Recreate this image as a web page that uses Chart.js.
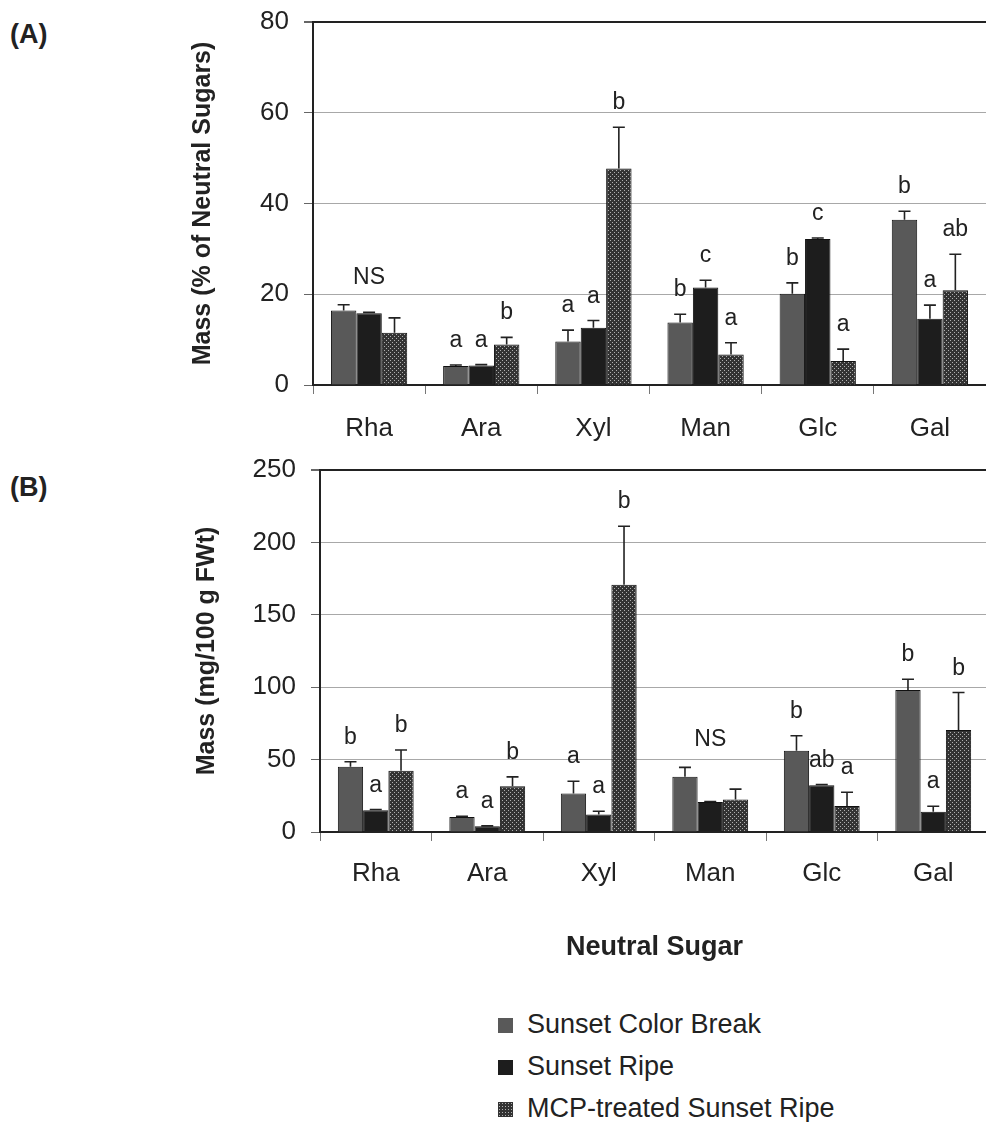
<!DOCTYPE html>
<html>
<head>
<meta charset="utf-8">
<script src="https://cdn.jsdelivr.net/npm/chart.js@4.4.0/dist/chart.umd.min.js"></script>
<style>
  html, body { margin: 0; padding: 0; background: #fff; overflow: hidden; width: 986px; height: 1122px; }
  body { position: relative; font-family: "Liberation Sans", Arial, sans-serif; color: #222; }
  canvas { position: absolute; left: 0; }
  .tag { position: absolute; font-weight: bold; font-size: 27px; line-height: 30px; }
  .leg { position: absolute; left: 498px; font-size: 27px; line-height: 30px; white-space: nowrap; }
  .leg i { position: absolute; left: 0; top: 9px; width: 15px; height: 15px; }
  .leg span { position: absolute; left: 29px; top: 0; }
</style>
</head>
<body>
<div class="tag" style="left:10px; top:19px;">(A)</div>
<div class="tag" style="left:10px; top:472px;">(B)</div>
<canvas id="chartA" width="986" height="455" style="top:-10px;"></canvas>
<canvas id="chartB" width="989" height="538" style="top:430px;"></canvas>
<div id="legend"></div>
<script>
const categories = ["Rha", "Ara", "Xyl", "Man", "Glc", "Gal"];
const seriesNames = ["Sunset Color Break", "Sunset Ripe", "MCP-treated Sunset Ripe"];

// (A) mass as % of neutral sugars
const colorBreakPct = [16.4, 4.2, 9.6, 13.8, 20.1, 36.4];
const colorBreakPctErr = [1.3, 0.2, 2.5, 1.8, 2.4, 1.9];
const ripePct = [15.8, 4.3, 12.6, 21.5, 32.2, 14.6];
const ripePctErr = [0.2, 0.2, 1.6, 1.6, 0.2, 3.0];
const mcpPct = [11.5, 8.9, 47.7, 6.7, 5.3, 20.9];
const mcpPctErr = [3.3, 1.6, 9.1, 2.6, 2.6, 7.9];
const yTicksA = [0, 20, 40, 60, 80];

// letters over bars, panel A
const colorBreakLettersA = ["", "a", "a", "b", "b", "b"];
const ripeLettersA = ["", "a", "a", "c", "c", "a"];
const mcpLettersA = ["", "b", "b", "a", "a", "ab"];
const groupLettersA = ["NS", "", "", "", "", ""];

// (B) mass in mg/100 g FWt
const colorBreakMg = [45.0, 10.4, 26.6, 38.1, 56.1, 98.1];
const colorBreakMgErr = [3.5, 0.4, 8.5, 6.5, 10.4, 7.4];
const ripeMg = [15.0, 3.9, 12.0, 20.8, 32.3, 13.9];
const ripeMgErr = [0.5, 0.3, 2.3, 0.3, 0.5, 3.9];
const mcpMg = [42.3, 31.6, 170.8, 22.4, 18.0, 70.4];
const mcpMgErr = [14.3, 6.5, 40.4, 7.2, 9.5, 25.9];
const yTicksB = [0, 50, 100, 150, 200, 250];

const colorBreakLettersB = ["b", "a", "a", "", "b", "b"];
const ripeLettersB = ["a", "a", "a", "", "ab", "a"];
const mcpLettersB = ["b", "b", "b", "", "a", "b"];
const groupLettersB = ["", "", "", "NS", "", ""];

const FONT = '"Liberation Sans", Arial, sans-serif';
const INK = '#222';

function dotPattern() {
    const c = document.createElement('canvas');
    c.width = 4; c.height = 4;
    const g = c.getContext('2d');
    g.fillStyle = '#333333';
    g.fillRect(0, 0, 4, 4);
    g.fillStyle = '#b0b0b0';
    g.fillRect(0, 0, 1, 1);
    g.fillRect(2, 2, 1, 1);
    return g.createPattern(c, 'repeat');
}
const mcpFill = dotPattern();
const barFills = ['#595959', '#1d1d1d', mcpFill];

// error bars (upper only) + significance letters
const marksPlugin = {
    id: 'marks',
    afterDatasetsDraw(chart, args, opts) {
        const ctx = chart.ctx;
        const y = chart.scales.y;
        const x = chart.scales.x;
        const groupTop = categories.map(() => Infinity);
        ctx.save();
        ctx.strokeStyle = INK;
        ctx.fillStyle = INK;
        ctx.lineWidth = 1.6;
        ctx.font = '23px ' + FONT;
        ctx.textAlign = 'center';
        ctx.textBaseline = 'alphabetic';
        chart.data.datasets.forEach((ds, di) => {
            chart.getDatasetMeta(di).data.forEach((bar, i) => {
                const hi = y.getPixelForValue(ds.data[i] + ds.errors[i]);
                groupTop[i] = Math.min(groupTop[i], hi);
                if (ds.errors[i] > 0) {
                    ctx.beginPath();
                    ctx.moveTo(bar.x, bar.y);
                    ctx.lineTo(bar.x, hi);
                    ctx.moveTo(bar.x - 6, hi);
                    ctx.lineTo(bar.x + 6, hi);
                    ctx.stroke();
                }
                if (ds.letters[i]) ctx.fillText(ds.letters[i], bar.x, hi - 18);
            });
        });
        (opts.groupLetters || []).forEach((txt, i) => {
            if (txt) ctx.fillText(txt, x.getPixelForValue(i), groupTop[i] - 21);
        });
        ctx.restore();
    }
};

function makeChart(el, cfg) {
    const yMax = cfg.ticks[cfg.ticks.length - 1];
    const datasets = cfg.series.map((vals, k) => ({
        label: seriesNames[k],
        data: vals,
        errors: cfg.errors[k],
        letters: cfg.letters[k],
        backgroundColor: barFills[k],
        borderColor: '#111',
        borderWidth: 1
    }));
    return new Chart(el, {
        type: 'bar',
        data: { labels: categories, datasets: datasets },
        options: {
            responsive: false,
            animation: false,
            categoryPercentage: 0.68,
            barPercentage: 1.0,
            layout: { padding: cfg.padding },
            plugins: {
                legend: { display: false },
                tooltip: { enabled: false },
                marks: { groupLetters: cfg.groupLetters }
            },
            scales: {
                x: {
                    grid: { offset: true, drawOnChartArea: false, tickLength: 9, color: '#777' },
                    border: { display: true, color: INK, width: 2 },
                    ticks: { font: { size: 26, family: FONT }, color: INK, padding: cfg.xPad },
                    title: cfg.xTitle ? {
                        display: true, text: cfg.xTitle, color: INK,
                        font: { size: 27, weight: 'bold', family: FONT },
                        padding: { top: 0, bottom: 4 }
                    } : { display: false },
                    afterFit(s) { s.height = cfg.xHeight; }
                },
                y: {
                    min: 0,
                    max: yMax,
                    afterBuildTicks(s) { s.ticks = cfg.ticks.map(v => ({ value: v })); },
                    ticks: { font: { size: 26, family: FONT }, color: INK, padding: 15 },
                    grid: {
                        color: c => (c.tick && c.tick.value === yMax) ? INK : '#a8a8a8',
                        lineWidth: c => (c.tick && c.tick.value === yMax) ? 2 : 1,
                        tickColor: '#666',
                        tickLength: 9
                    },
                    border: { display: true, color: INK, width: 2 },
                    title: {
                        display: true, text: cfg.yTitle, color: INK,
                        font: { size: 25, weight: 'bold', family: FONT },
                        padding: { top: 4, bottom: 0 }
                    },
                    afterFit(s) { s.width = cfg.yWidth; }
                }
            }
        },
        plugins: [marksPlugin]
    });
}

makeChart(document.getElementById('chartA'), {
    series: [colorBreakPct, ripePct, mcpPct],
    errors: [colorBreakPctErr, ripePctErr, mcpPctErr],
    letters: [colorBreakLettersA, ripeLettersA, mcpLettersA],
    groupLetters: groupLettersA,
    ticks: yTicksA,
    yTitle: 'Mass (% of Neutral Sugars)',
    padding: { left: 184, top: 32, right: 0, bottom: 0 },
    yWidth: 129,
    xHeight: 60,
    xPad: 19
});

makeChart(document.getElementById('chartB'), {
    series: [colorBreakMg, ripeMg, mcpMg],
    errors: [colorBreakMgErr, ripeMgErr, mcpMgErr],
    letters: [colorBreakLettersB, ripeLettersB, mcpLettersB],
    groupLetters: groupLettersB,
    ticks: yTicksB,
    yTitle: 'Mass (mg/100 g FWt)',
    xTitle: 'Neutral Sugar',
    padding: { left: 188, top: 40, right: 0, bottom: 0 },
    yWidth: 132,
    xHeight: 136,
    xPad: 17
});

// legend
const legendBox = document.getElementById('legend');
const legendTops = [1009, 1051, 1093];
seriesNames.forEach((name, k) => {
    const row = document.createElement('div');
    row.className = 'leg';
    row.style.top = legendTops[k] + 'px';
    const sw = document.createElement('i');
    if (k === 2) {
        sw.style.background = 'radial-gradient(circle, #b0b0b0 0.6px, transparent 0.8px) 0 0 / 3px 3px, #333333';
    } else {
        sw.style.background = barFills[k];
    }
    const tx = document.createElement('span');
    tx.textContent = name;
    row.appendChild(sw);
    row.appendChild(tx);
    legendBox.appendChild(row);
});
</script>
</body>
</html>
